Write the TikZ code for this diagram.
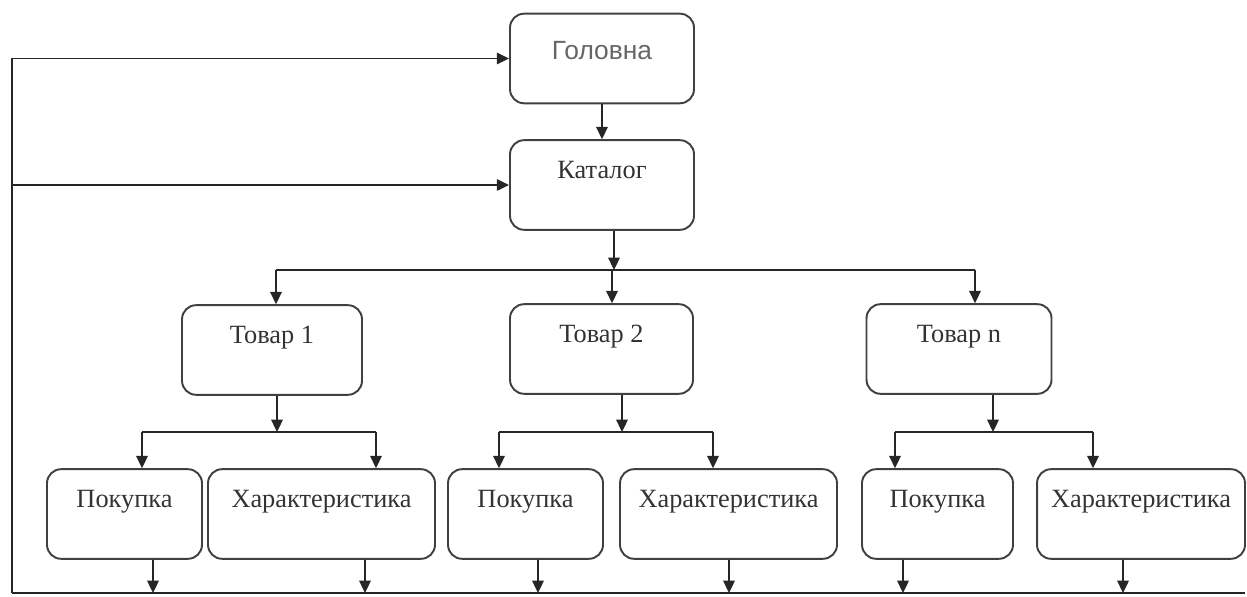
\documentclass[tikz,border=0pt]{standalone}
\usepackage{fontspec}
\setmainfont{Liberation Serif}
\newfontfamily\headfont{Liberation Sans}
\usetikzlibrary{arrows.meta}

\begin{document}
\begin{tikzpicture}[x=0.02cm,y=-0.02cm,
  box/.style={draw=black!75, line width=1.1pt, rounded corners=8pt, inner sep=0pt,
    minimum height=51pt, text height=22pt, text depth=29pt, text=black!80,
    font=\fontsize{15}{17}\selectfont},
  line/.style={draw=black!85, line width=1.1pt},
  bus/.style={draw=black!85, line width=1.7pt},
  arr/.style={line, -{Triangle[length=7pt,width=6.5pt]}}]
\useasboundingbox (0,0) rectangle (1247,597);

\node[box, minimum width=3.68cm, text=black!60, text height=26pt, text depth=24.5pt,
  font=\headfont\fontsize{15}{17}\selectfont] (glav) at (602,58.5) {Головна};
\node[box, minimum width=3.68cm] (kat) at (602,185) {Каталог};
\node[box, minimum width=3.6cm] (tov1) at (272,350) {Товар 1};
\node[box, minimum width=3.66cm] (tov2) at (601.5,349) {Товар 2};
\node[box, minimum width=3.7cm] (tovn) at (959,349) {Товар n};
\node[box, minimum width=3.1cm] (pok1) at (124.5,514) {Покупка};
\node[box, minimum width=4.54cm] (har1) at (321.5,514) {Характеристика};
\node[box, minimum width=3.1cm] (pok2) at (525.5,514) {Покупка};
\node[box, minimum width=4.34cm] (har2) at (728.5,514) {Характеристика};
\node[box, minimum width=3.02cm] (pokn) at (937.5,514) {Покупка};
\node[box, minimum width=4.16cm] (harn) at (1141,514) {Характеристика};

% return rail
\coordinate (lft) at (12,593);
\coordinate (rgt) at (1245,593);
\draw[line] (rgt) -- (lft);
\draw[arr] (lft) |- (glav.west);
\draw[arr] (lft |- kat.west) -- (kat.west);

\draw[arr] (glav) -- (kat);

% catalog to goods
\coordinate (k) at (614,270);
\coordinate (t1) at (276,270);
\coordinate (t2) at (612,270);
\coordinate (tn) at (975,270);
\draw[arr] (kat.south -| k) -- (k);
\draw[bus] (t1) -- (tn);
\draw[arr] (t1) -- (t1 |- tov1.north);
\draw[arr] (t2) -- (t2 |- tov2.north);
\draw[arr] (tn) -- (tn |- tovn.north);

% goods to pages
\coordinate (s1) at (277,432);
\coordinate (p1) at (142,432);
\coordinate (h1) at (376,432);
\draw[arr] (tov1.south -| s1) -- (s1);
\draw[bus] (p1) -- (h1);
\draw[arr] (p1) -- (p1 |- pok1.north);
\draw[arr] (h1) -- (h1 |- har1.north);

\coordinate (s2) at (622,432);
\coordinate (p2) at (499,432);
\coordinate (h2) at (713,432);
\draw[arr] (tov2.south -| s2) -- (s2);
\draw[bus] (p2) -- (h2);
\draw[arr] (p2) -- (p2 |- pok2.north);
\draw[arr] (h2) -- (h2 |- har2.north);

\coordinate (sn) at (993,432);
\coordinate (pn) at (895,432);
\coordinate (hn) at (1093,432);
\draw[arr] (tovn.south -| sn) -- (sn);
\draw[bus] (pn) -- (hn);
\draw[arr] (pn) -- (pn |- pokn.north);
\draw[arr] (hn) -- (hn |- harn.north);

% pages back to the rail
\coordinate (o1) at (153,593);
\coordinate (o2) at (365,593);
\coordinate (o3) at (538,593);
\coordinate (o4) at (729,593);
\coordinate (o5) at (903,593);
\coordinate (o6) at (1123,593);
\draw[arr] (pok1.south -| o1) -- (o1);
\draw[arr] (har1.south -| o2) -- (o2);
\draw[arr] (pok2.south -| o3) -- (o3);
\draw[arr] (har2.south -| o4) -- (o4);
\draw[arr] (pokn.south -| o5) -- (o5);
\draw[arr] (harn.south -| o6) -- (o6);
\end{tikzpicture}
\end{document}
